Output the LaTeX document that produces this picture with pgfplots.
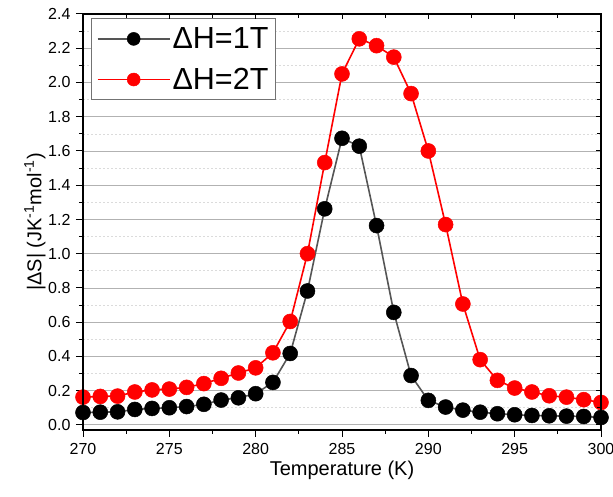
\documentclass[border=0pt]{standalone}
\usepackage{pgfplots}
\pgfplotsset{compat=1.18}
\usepackage{pgfplotstable}
\usepackage{fontspec}
\setmainfont{Liberation Sans}
\definecolor{lgray}{HTML}{555555}
\definecolor{lred}{HTML}{FF0000}

\pgfplotstableread{
T a b
270 0.072 0.162
271 0.074 0.166
272 0.076 0.168
273 0.090 0.192
274 0.096 0.204
275 0.100 0.209
276 0.107 0.219
277 0.120 0.241
278 0.145 0.272
279 0.158 0.303
280 0.182 0.333
281 0.248 0.421
282 0.417 0.604
283 0.782 1.000
284 1.262 1.532
285 1.674 2.050
286 1.628 2.255
287 1.164 2.215
288 0.657 2.148
289 0.288 1.935
290 0.143 1.600
291 0.104 1.170
292 0.086 0.706
293 0.074 0.381
294 0.065 0.260
295 0.059 0.215
296 0.055 0.192
297 0.053 0.170
298 0.051 0.162
299 0.049 0.147
300 0.043 0.131
}\data

\begin{document}
\begin{tikzpicture}
\useasboundingbox (-83pt,-67pt) rectangle (530pt,430pt);
\begin{axis}[
  at={(0pt,0pt)}, anchor=south west,
  scale only axis, width=518pt, height=416pt,
  xmin=270, xmax=300, ymin=-0.03, ymax=2.4,
  xtick={270,275,280,285,290,295,300}, minor x tick num=1,
  ytick={0,0.2,0.4,0.6,0.8,1.0,1.2,1.4,1.6,1.8,2.0,2.2,2.4}, minor y tick num=1,
  xtick pos=bottom, ytick pos=left, tick align=outside,
  major tick length=7pt, minor tick length=4pt,
  ymajorgrids, yminorgrids,
  major grid style={color=black!30, line width=0.8pt},
  minor grid style={color=black!14, dash pattern=on 2pt off 2pt, line width=0.6pt},
  axis line style={line width=1.2pt},
  tick style={black, line width=1pt},
  /pgf/number format/assume math mode=true,
  xticklabel style={/pgf/number format/1000 sep={}, yshift=-3pt},
  yticklabel style={/pgf/number format/fixed, /pgf/number format/fixed zerofill, /pgf/number format/precision=1, xshift=-2pt},
  ticklabel style={font=\fontsize{16}{19}\selectfont},
  label style={font=\fontsize{20}{24}\selectfont},
  xlabel={Temperature (K)},
  xlabel style={at={(axis description cs:0.5,0)}, anchor=center, yshift=-40pt},
  legend style={at={(0.016,0.99)}, anchor=north west, draw=black!55, line width=1pt,
    font=\fontsize{30.5}{34}\selectfont, inner xsep=5pt, inner ysep=7pt, fill=white, row sep=14pt},
  legend cell align=left,
  legend image code/.code={\draw[#1, line width=1.8pt, mark repeat=2, mark phase=2, mark size=6.5pt] plot coordinates {(0pt,0pt) (36pt,0pt) (72pt,0pt)};},
]
\addplot[color=lgray, line width=1.6pt, mark=*, mark size=7.5pt, mark options={draw=black, fill=black, line width=0.5pt}] table[x=T, y=a] {\data};
\addlegendentry{ΔH=1T}
\addplot[color=lred, line width=1.6pt, mark=*, mark size=7.5pt, mark options={draw=lred, fill=lred, line width=0.5pt}] table[x=T, y=b] {\data};
\addlegendentry{ΔH=2T}
\end{axis}
\begin{axis}[
  at={(0pt,0pt)}, anchor=south west,
  scale only axis, width=518pt, height=416pt,
  xmin=270, xmax=300, ymin=-0.03, ymax=2.4,
  xtick={270,275,280,285,290,295,300}, minor x tick num=1,
  ytick={0,0.2,0.4,0.6,0.8,1.0,1.2,1.4,1.6,1.8,2.0,2.2,2.4}, minor y tick num=1,
  xtick pos=top, ytick pos=right, tick align=inside,
  major tick length=5pt, minor tick length=4pt,
  xticklabels={}, yticklabels={},
  axis line style={line width=1.2pt},
  tick style={black, line width=1pt},
]
\end{axis}
\node[rotate=90, font=\fontsize{20}{24}\selectfont] at (-48pt,208pt) {|ΔS| (JK\textsuperscript{-1}mol\textsuperscript{-1})};
\end{tikzpicture}
\end{document}
